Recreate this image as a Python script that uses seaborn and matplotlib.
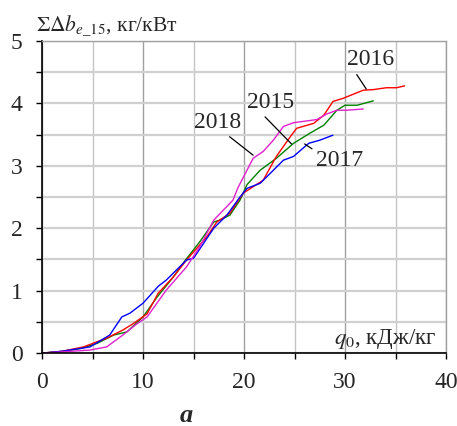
import pandas as pd
import matplotlib
matplotlib.use("Agg")
import matplotlib.pyplot as plt
import seaborn as sns
from matplotlib.ticker import MultipleLocator

# values: q0 (kJ/kg) -> sum delta b_e_15 (kg/kW)
x_2015 = [0, 2, 4, 5.5, 7.1, 8.4, 10, 11.4, 13, 14.2, 15.6, 17, 17.6, 18.6, 19.6, 20.3,
          21.6, 23.2, 24.9, 26.5, 27.9, 29.2, 30, 31.2, 32.8]
y_2015 = [0, 0.03, 0.08, 0.16, 0.29, 0.34, 0.58, 0.90, 1.22, 1.49, 1.78, 2.10, 2.13, 2.21, 2.45, 2.70,
          2.93, 3.12, 3.36, 3.52, 3.65, 3.89, 3.97, 3.97, 4.04]

x_2016 = [0, 2, 4.1, 6.4, 8.0, 9.0, 10.4, 11.5, 13, 14.3, 16.3, 17.3, 18.6, 19.9, 21.9, 23.2,
          24.6, 25.2, 26.9, 27.9, 28.8, 29.8, 31.8, 32.8, 34.1, 35.1, 35.9]
y_2016 = [0, 0.03, 0.10, 0.24, 0.37, 0.47, 0.63, 0.96, 1.22, 1.49, 1.86, 2.10, 2.24, 2.56, 2.77, 3.15,
          3.47, 3.60, 3.68, 3.81, 4.03, 4.08, 4.21, 4.22, 4.25, 4.25, 4.28]

x_2017 = [0, 2, 4.75, 6.7, 7.9, 8.7, 10, 11.5, 12.3, 13.8, 14.3, 15, 16, 17, 18.3, 19.6, 20.3,
          21.6, 22.6, 23.9, 24.9, 26.4, 27.5, 28.8]
y_2017 = [0, 0.03, 0.10, 0.29, 0.58, 0.64, 0.80, 1.07, 1.17, 1.41, 1.49, 1.52, 1.76, 2.00, 2.21, 2.50, 2.64,
          2.72, 2.88, 3.09, 3.15, 3.36, 3.41, 3.49]

x_2018 = [0, 2, 4.75, 6.4, 8.0, 9.4, 10.4, 12.3, 14.3, 15.6, 17, 18.9, 19.4, 20.9, 21.9, 22.9,
          23.9, 24.9, 27.2, 28.2, 29.2, 30.2, 31.8]
y_2018 = [0, 0.02, 0.05, 0.10, 0.29, 0.47, 0.58, 1.01, 1.38, 1.70, 2.13, 2.45, 2.65, 3.12, 3.23, 3.41,
          3.63, 3.69, 3.74, 3.83, 3.89, 3.89, 3.91]

years = ["2015", "2016", "2017", "2018"]
colors = ["#008000", "#ff0000", "#0000ff", "#e020d0"]

frames = []
for yr, xs, ys in zip(years, [x_2015, x_2016, x_2017, x_2018], [y_2015, y_2016, y_2017, y_2018]):
    frames.append(pd.DataFrame({"q0": xs, "b": ys, "year": yr}))
df = pd.concat(frames, ignore_index=True)

sns.set_theme(style="white")
plt.rcParams["font.family"] = ["Liberation Serif", "DejaVu Serif"]
plt.rcParams["mathtext.fontset"] = "stix"

fig = plt.figure(figsize=(4.57, 4.26), dpi=100)
ax = fig.add_axes([0.092, 0.171, 0.884, 0.733])

# grid
ax.xaxis.set_major_locator(MultipleLocator(10))
ax.xaxis.set_minor_locator(MultipleLocator(5))
ax.yaxis.set_major_locator(MultipleLocator(1))
ax.yaxis.set_minor_locator(MultipleLocator(0.5))
ax.grid(True, which="major", axis="x", color="#a0a0a0", lw=1.0)
ax.grid(True, which="minor", axis="x", color="#c4c4c4", lw=1.0)
ax.grid(True, which="both", axis="y", color="#d0d0d0", lw=1.6)

sns.lineplot(data=df, x="q0", y="b", hue="year", palette=dict(zip(years, colors)),
             sort=False, estimator=None, lw=1.0, legend=False, ax=ax)

ax.set_xlim(0, 40)
ax.set_ylim(0, 5)
ax.set_xlabel("")
ax.set_ylabel("")
ax.tick_params(axis="both", which="both", direction="out", length=4.5, width=1,
               color="black", labelsize=17, left=True, bottom=True)
ax.tick_params(axis="y", which="both", pad=9.5)
ax.tick_params(axis="x", which="both", pad=9)
for s in ["left", "bottom"]:
    ax.spines[s].set_color("black")
    ax.spines[s].set_linewidth(1.2)
for s in ["top", "right"]:
    ax.spines[s].set_color("#a0a0a0")
    ax.spines[s].set_linewidth(1.0)

# labels
fig.text(36 / 457, 1 - 30 / 426, r"$\Sigma\Delta b_{e\_15}$, кг/кВт", fontsize=15.5,
         ha="left", va="baseline")
ax.text(39.1, 0.22, r"$q_0$, кДж/кг", fontsize=16.5, ha="right", va="center")
fig.text(186 / 457, 1 - 416 / 426, "а", fontsize=19, fontweight="bold", style="italic",
         ha="center", va="center")

# year annotations
lead = dict(arrowstyle="-", color="black", lw=0.9, shrinkA=1, shrinkB=0)
ax.annotate("2016", xy=(32.1, 4.23), xytext=(32.5, 4.70), fontsize=17, ha="center", va="center",
            arrowprops=dict(lead, relpos=(0.15, 0.0)))
ax.annotate("2015", xy=(24.7, 3.35), xytext=(22.6, 4.02), fontsize=17, ha="center", va="center",
            arrowprops=dict(lead, relpos=(0.3, 0.0)))
ax.annotate("2018", xy=(20.9, 3.17), xytext=(17.35, 3.70), fontsize=17, ha="center", va="center",
            arrowprops=dict(lead, relpos=(0.65, 0.0)))
ax.annotate("2017", xy=(26.0, 3.35), xytext=(29.5, 3.09), fontsize=17, ha="center", va="center",
            arrowprops=dict(lead, relpos=(0.0, 0.9)))

fig.savefig("out.png", dpi=100)
